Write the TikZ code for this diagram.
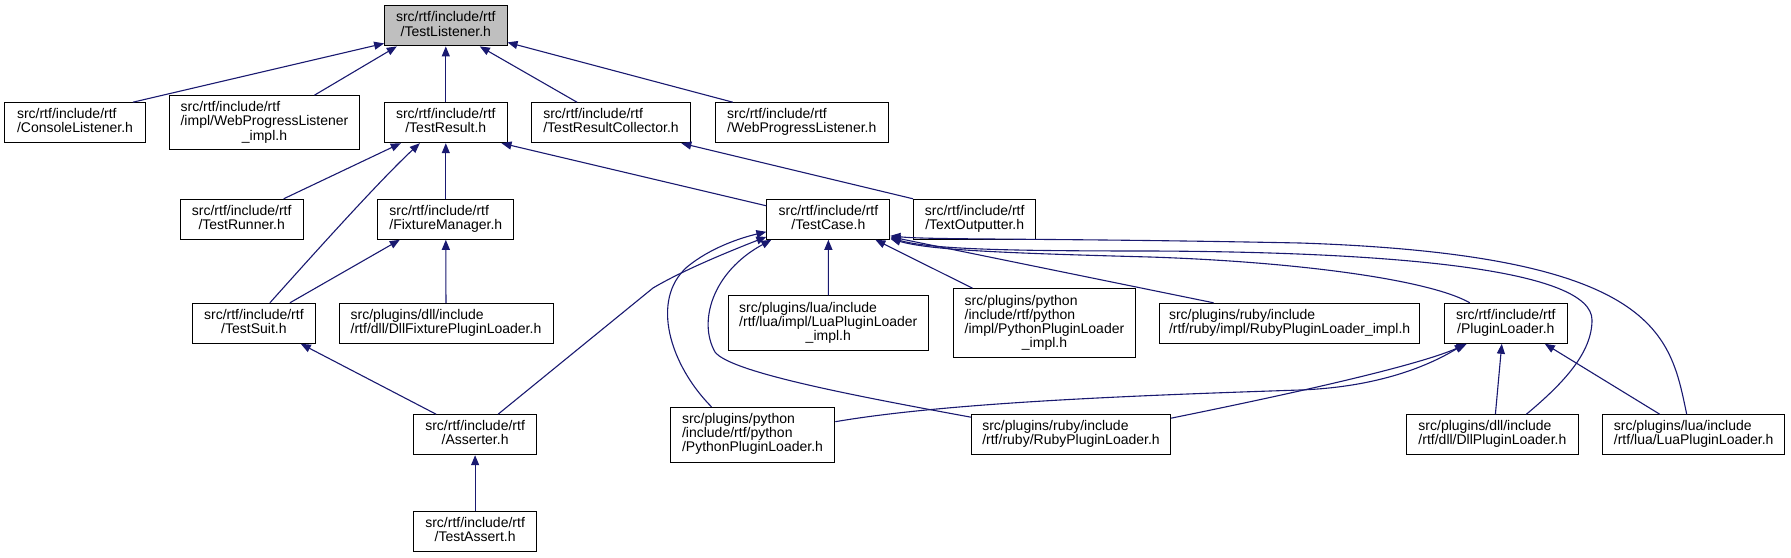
\documentclass[tikz,border=0pt]{standalone}
\usepackage{fontspec}
\setmainfont{Liberation Sans}
\usepackage{xcolor}
\definecolor{cEdge}{HTML}{191970}
\definecolor{cFocus}{HTML}{BFBFBF}
\usepackage{tikz}
\usetikzlibrary{arrows.meta}
% label as doxygen sets it: upper lines flush left, last line centred
\newcommand{\hlab}[2]{\begin{tabular}{@{}l@{}}#1\\\multicolumn{1}{@{}c@{}}{#2}\end{tabular}}
\tikzset{
  node-file/.style={draw=black,line width=1pt,fill=white,inner sep=0pt,
    minimum height=40pt,font=\fontsize{14}{13.3}\selectfont},
  node-focus/.style={fill=cFocus},
  arrow-inc/.style={-{Triangle[length=10pt,width=8pt]},line width=1.1pt,draw=cEdge},
}

\begin{document}
\begin{tikzpicture}[x=1pt,y=-1pt]
  \useasboundingbox (0,0) rectangle (1791,557);
  % row 0
  \node[node-file,node-focus,minimum width=122.4pt] (tlis) at (445.8,25.9) {\hlab{src/rtf/include/rtf}{/TestListener.h}};
  % row 1
  \node[node-file,minimum width=140.8pt] (cons) at (75,122.7) {\hlab{src/rtf/include/rtf}{/ConsoleListener.h}};
  \node[node-file,minimum width=190.5pt,minimum height=54.3pt] (wpli) at (264.5,122.8) {\hlab{src/rtf/include/rtf\\/impl/WebProgressListener}{\_impl.h}};
  \node[node-file,minimum width=122.4pt] (tres) at (445.8,122.7) {\hlab{src/rtf/include/rtf}{/TestResult.h}};
  \node[node-file,minimum width=159.6pt] (trco) at (611,122.7) {\hlab{src/rtf/include/rtf}{/TestResultCollector.h}};
  \node[node-file,minimum width=173pt] (wpl) at (801.8,122.7) {\hlab{src/rtf/include/rtf}{/WebProgressListener.h}};
  % row 2
  \node[node-file,minimum width=122.9pt] (trun) at (241.7,219.3) {\hlab{src/rtf/include/rtf}{/TestRunner.h}};
  \node[node-file,minimum width=136.2pt] (fman) at (445.8,219.3) {\hlab{src/rtf/include/rtf}{/FixtureManager.h}};
  \node[node-file,minimum width=123.1pt] (tcas) at (828.4,219.3) {\hlab{src/rtf/include/rtf}{/TestCase.h}};
  \node[node-file,minimum width=122.3pt] (tout) at (974.7,219.3) {\hlab{src/rtf/include/rtf}{/TextOutputter.h}};
  % row 3
  \node[node-file,minimum width=122.8pt] (tsui) at (253.9,323.3) {\hlab{src/rtf/include/rtf}{/TestSuit.h}};
  \node[node-file,minimum width=214pt] (dfpl) at (446,323.3) {\hlab{src/plugins/dll/include}{/rtf/dll/DllFixturePluginLoader.h}};
  \node[node-file,minimum width=200.2pt,minimum height=54.7pt] (lpli) at (828.3,323.3) {\hlab{src/plugins/lua/include\\/rtf/lua/impl/LuaPluginLoader}{\_impl.h}};
  \node[node-file,minimum width=182.4pt,minimum height=69pt] (ppli) at (1044.5,323.2) {\hlab{src/plugins/python\\/include/rtf/python\\/impl/PythonPluginLoader}{\_impl.h}};
  \node[node-file,minimum width=260.3pt] (rpli) at (1289.6,323.3) {\hlab{src/plugins/ruby/include}{/rtf/ruby/impl/RubyPluginLoader\_impl.h}};
  \node[node-file,minimum width=123.1pt] (plo) at (1505.8,323.3) {\hlab{src/rtf/include/rtf}{/PluginLoader.h}};
  % row 4
  \node[node-file,minimum width=122.8pt] (asrt) at (475.1,434.7) {\hlab{src/rtf/include/rtf}{/Asserter.h}};
  \node[node-file,minimum width=164.6pt,minimum height=54.7pt] (ppl) at (752.5,434.7) {\hlab{src/plugins/python\\/include/rtf/python}{/PythonPluginLoader.h}};
  \node[node-file,minimum width=198.9pt] (rpl) at (1071,434.7) {\hlab{src/plugins/ruby/include}{/rtf/ruby/RubyPluginLoader.h}};
  \node[node-file,minimum width=171.3pt] (dpl) at (1492.4,434.7) {\hlab{src/plugins/dll/include}{/rtf/dll/DllPluginLoader.h}};
  \node[node-file,minimum width=182.4pt] (lpl) at (1693.7,434.7) {\hlab{src/plugins/lua/include}{/rtf/lua/LuaPluginLoader.h}};
  % row 5
  \node[node-file,minimum width=122.8pt] (tass) at (475.1,531) {\hlab{src/rtf/include/rtf}{/TestAssert.h}};

  \draw[arrow-inc] ([xshift=-13pt]cons.north east) -- ([yshift=3pt]tlis.south west);
  \draw[arrow-inc] ([xshift=50pt]wpli.north) -- ([xshift=-49pt]tlis.south);
  \draw[arrow-inc] (tres) -- (tlis);
  \draw[arrow-inc] ([xshift=-34pt]trco.north) -- ([xshift=34pt]tlis.south);
  \draw[arrow-inc] ([xshift=-69pt]wpl.north) -- ([yshift=4pt]tlis.south east);

  \draw[arrow-inc] ([xshift=-20pt]trun.north east) -- ([xshift=-45pt]tres.south);
  \draw[arrow-inc] ([xshift=16pt]tsui.north) .. controls (310,258) and (380,180) .. ([xshift=-26pt]tres.south);
  \draw[arrow-inc] (fman) -- (tres);
  \draw[arrow-inc] ([yshift=-7pt]tcas.north west) -- ([xshift=-6pt]tres.south east);
  \draw[arrow-inc] (tout.north west) -- ([xshift=-10pt]trco.south east);

  \draw[arrow-inc] ([xshift=36pt]tsui.north) -- ([xshift=-46pt]fman.south);
  \draw[arrow-inc] (dfpl) -- (fman);
  \draw[arrow-inc] ([xshift=-39pt]asrt.north) -- ([xshift=-15pt]tsui.south east);
  \draw[arrow-inc] (tass) -- (asrt);

  \draw[arrow-inc] ([xshift=23pt]asrt.north) -- (653,288) .. controls (680,272) and (720,255) .. ([yshift=3pt]tcas.south west);
  \draw[arrow-inc] ([xshift=-41pt]ppl.north) .. controls (670,365) and (650,300) .. (687,267)
    .. controls (710,248) and (740,238) .. ([yshift=8pt]tcas.south west);
  \draw[arrow-inc] ([yshift=-3pt]rpl.north west) .. controls (850,395) and (730,372) .. (715,352)
    .. controls (698,322) and (712,272) .. ([xshift=5pt]tcas.south west);
  \draw[arrow-inc] (lpli) -- (tcas);
  \draw[arrow-inc] ([xshift=-72pt]ppli.north) -- ([xshift=47pt]tcas.south);
  \draw[arrow-inc] ([xshift=-76pt]rpli.north) -- ([yshift=3pt]tcas.south east);
  \draw[arrow-inc] ([xshift=-36pt]plo.north) .. controls (1430,280) and (1300,262) .. (1150,257)
    .. controls (1000,253) and (930,250) .. ([yshift=1pt]tcas.south east);
  \draw[arrow-inc] ([xshift=34pt]dpl.north) .. controls (1565,382) and (1592,352) .. (1592,320)
    .. controls (1592,270) and (1400,252) .. (1150,251)
    .. controls (1000,251) and (930,249) .. ([yshift=2pt]tcas.south east);
  \draw[arrow-inc] ([xshift=-7pt]lpl.north) .. controls (1670,335) and (1660,255) .. (1300,243)
    .. controls (1050,238) and (930,240) .. ([yshift=4pt]tcas.south east);

  \draw[arrow-inc] ([yshift=13pt]ppl.east) .. controls (950,402) and (1150,395) .. (1300,390)
    .. controls (1380,387) and (1430,365) .. ([xshift=-41pt]plo.south);
  \draw[arrow-inc] ([yshift=-4pt]rpl.north east) .. controls (1300,392) and (1420,365) .. ([xshift=-39pt]plo.south);
  \draw[arrow-inc] ([xshift=3pt]dpl.north) -- ([xshift=-4pt]plo.south);
  \draw[arrow-inc] ([xshift=-34pt]lpl.north) -- ([xshift=39pt]plo.south);
\end{tikzpicture}
\end{document}
